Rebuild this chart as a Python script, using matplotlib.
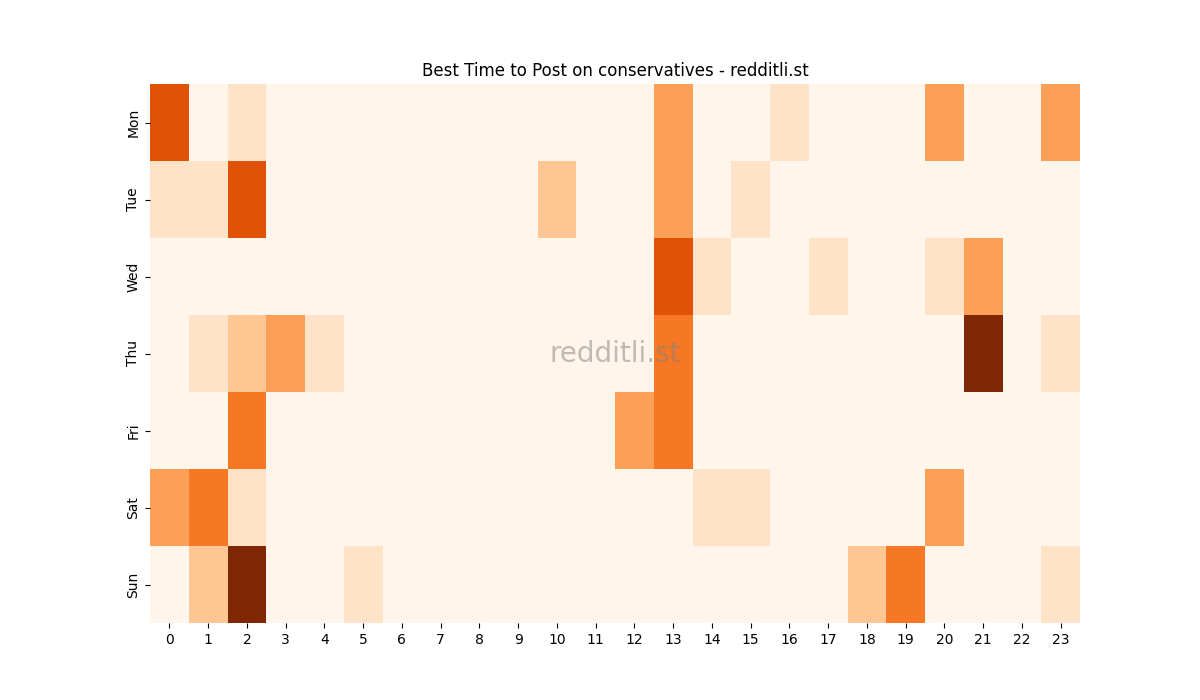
import matplotlib

matplotlib.use("Agg")
import matplotlib.pyplot as plt
import numpy as np
import seaborn as sns

days = ["Mon", "Tue", "Wed", "Thu", "Fri", "Sat", "Sun"]
hours = list(range(24))

# post counts per hour
mon = [5, 0, 1, 0, 0, 0, 0, 0, 0, 0, 0, 0, 0, 3, 0, 0, 1, 0, 0, 0, 3, 0, 0, 3]
tue = [1, 1, 5, 0, 0, 0, 0, 0, 0, 0, 2, 0, 0, 3, 0, 1, 0, 0, 0, 0, 0, 0, 0, 0]
wed = [0, 0, 0, 0, 0, 0, 0, 0, 0, 0, 0, 0, 0, 5, 1, 0, 0, 1, 0, 0, 1, 3, 0, 0]
thu = [0, 1, 2, 3, 1, 0, 0, 0, 0, 0, 0, 0, 0, 4, 0, 0, 0, 0, 0, 0, 0, 7, 0, 1]
fri = [0, 0, 4, 0, 0, 0, 0, 0, 0, 0, 0, 0, 3, 4, 0, 0, 0, 0, 0, 0, 0, 0, 0, 0]
sat = [3, 4, 1, 0, 0, 0, 0, 0, 0, 0, 0, 0, 0, 0, 1, 1, 0, 0, 0, 0, 3, 0, 0, 0]
sun = [0, 2, 7, 0, 0, 1, 0, 0, 0, 0, 0, 0, 0, 0, 0, 0, 0, 0, 2, 4, 0, 0, 0, 1]

grid = np.array([mon, tue, wed, thu, fri, sat, sun])

fig, ax = plt.subplots(figsize=(12, 7))
sns.heatmap(grid, cmap="Oranges", cbar=False, ax=ax, xticklabels=hours, yticklabels=days)
ax.set_title("Best Time to Post on conservatives - redditli.st")
ax.text(0.5, 0.5, "redditli.st", transform=ax.transAxes, fontsize=20,
        color="gray", alpha=0.5, ha="center", va="center")
plt.savefig("out.png", dpi=100)
